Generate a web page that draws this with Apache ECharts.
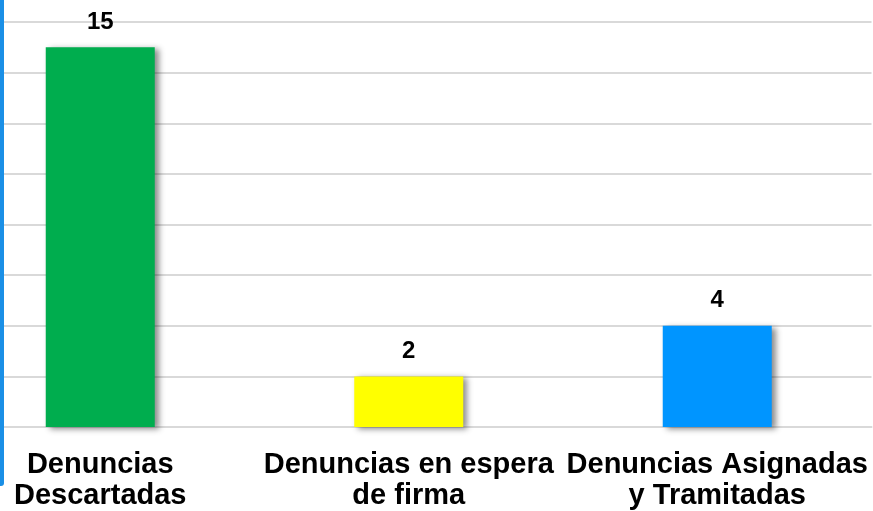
<!DOCTYPE html>
<html>
<head>
<meta charset="utf-8">
<script src="https://cdn.jsdelivr.net/npm/echarts@6/dist/echarts.min.js"></script>
<style>
  html, body { margin: 0; padding: 0; background: #fff; overflow: hidden; }
  /* el gráfico empieza fuera del borde izquierdo, como en el original recortado */
  #chart { width: 927px; height: 511px; margin-left: -54px; }
</style>
</head>
<body>
<div id="chart"></div>
<script>
// datos
const categorias = ['Denuncias\nDescartadas', 'Denuncias en espera\nde firma', 'Denuncias Asignadas\ny Tramitadas']
const valores = [15, 2, 4]
const colores = ['#00ad4e', '#ffff00', '#0095ff']

let myChart = echarts.init(document.getElementById('chart'))
myChart.setOption({
  animation: false,
  textStyle: { fontFamily: 'Liberation Sans, Arial, sans-serif' },
  grid: {
    left: 0,
    right: 1.5,
    top: 22,
    bottom: 83
  },
  // borde azul a la izquierda
  graphic: [{
    type: 'rect',
    shape: { x: 54, y: -10, width: 4, height: 496, r: [0, 0, 3, 0] },
    style: { fill: '#1a8fe6' },
    z: 10
  }],
  xAxis: {
    type: 'category',
    data: categorias,
    axisLine: { lineStyle: { color: '#d9d9d9', width: 2 } },
    axisTick: { show: false },
    axisLabel: {
      interval: 0,
      margin: 22,
      color: '#000',
      fontWeight: 'bold',
      fontSize: 29,
      lineHeight: 31
    }
  },
  yAxis: {
    type: 'value',
    min: 0,
    max: 16,
    interval: 2,
    axisLabel: { show: false },
    axisLine: { show: false },
    axisTick: { show: false },
    splitLine: { lineStyle: { color: '#d9d9d9', width: 2 } }
  },
  series: [{
    type: 'bar',
    barWidth: 109,
    data: valores.map((v, i) => ({
      value: v,
      itemStyle: { color: colores[i] }
    })),
    itemStyle: {
      shadowColor: 'rgba(0,0,0,0.45)',
      shadowBlur: 6,
      shadowOffsetX: 4,
      shadowOffsetY: 2
    },
    label: {
      show: true,
      position: 'top',
      distance: 13,
      color: '#000',
      fontWeight: 'bold',
      fontSize: 24
    }
  }]
})
</script>
</body>
</html>
